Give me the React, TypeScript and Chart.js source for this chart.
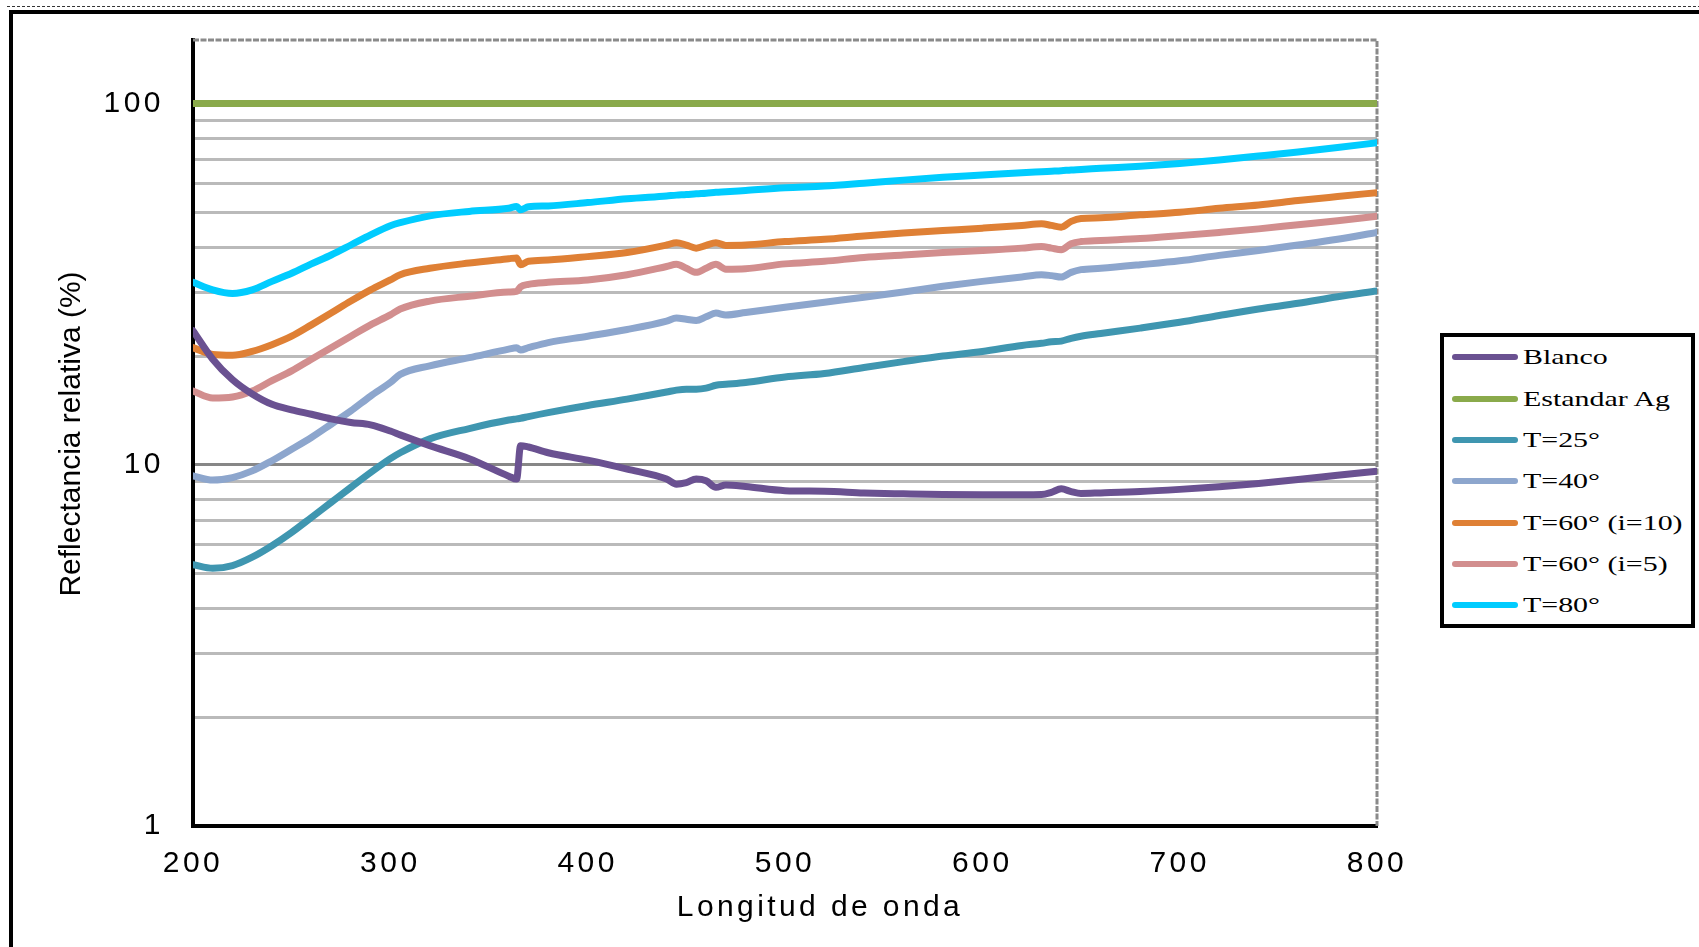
import React, { useEffect, useRef } from 'react';
import { Chart, registerables } from 'chart.js';

Chart.register(...registerables);

// Wavelength (nm)
const wavelengths = [
  200, 210, 220, 230, 240, 250, 260, 270, 280, 290,
  300, 305, 320, 340, 360, 364, 366, 370, 380, 400,
  420, 440, 445, 450, 455, 460, 465, 470, 480, 500,
  520, 540, 560, 580, 600, 620, 630, 635, 640, 645,
  650, 660, 680, 700, 720, 740, 760, 780, 800,
];

const blanco = [
  23.5, 19.6, 17.2, 15.7, 14.7, 14.2, 13.8, 13.4, 13.1, 12.9,
  12.4, 12.1, 11.3, 10.4, 9.3, 9.13, 11.3, 11.2, 10.8, 10.3,
  9.73, 9.13, 8.84, 8.93, 9.13, 9.03, 8.66, 8.79, 8.71, 8.48,
  8.45, 8.36, 8.31, 8.27, 8.26, 8.26, 8.27, 8.39, 8.58, 8.43,
  8.33, 8.36, 8.43, 8.55, 8.7, 8.88, 9.1, 9.35, 9.6,
];

const estandarAg = [
  100, 100, 100, 100, 100, 100, 100, 100, 100, 100,
  100, 100, 100, 100, 100, 100, 100, 100, 100, 100,
  100, 100, 100, 100, 100, 100, 100, 100, 100, 100,
  100, 100, 100, 100, 100, 100, 100, 100, 100, 100,
  100, 100, 100, 100, 100, 100, 100, 100, 100,
];

const t25 = [
  5.29, 5.17, 5.26, 5.55, 5.97, 6.5, 7.15, 7.87, 8.66, 9.52,
  10.4, 10.8, 11.8, 12.6, 13.3, 13.4, 13.45, 13.6, 13.95, 14.6,
  15.2, 15.9, 16.1, 16.2, 16.2, 16.3, 16.6, 16.7, 16.9, 17.5,
  17.9, 18.6, 19.3, 20.0, 20.6, 21.4, 21.7, 21.9, 22.0, 22.4,
  22.7, 23.1, 23.9, 24.8, 25.9, 27.0, 28.0, 29.2, 30.3,
];

const t40 = [
  9.32, 9.07, 9.22, 9.62, 10.26, 11.04, 11.9, 12.95, 14.1, 15.5,
  16.9, 17.8, 18.8, 19.8, 20.9, 21.1, 20.8, 21.1, 21.8, 22.7,
  23.7, 25.0, 25.5, 25.3, 25.1, 25.7, 26.3, 26.0, 26.4, 27.3,
  28.2, 29.1, 30.1, 31.2, 32.2, 33.1, 33.6, 33.4, 33.1, 34.1,
  34.7, 35.0, 35.8, 36.7, 38.0, 39.2, 40.6, 42.1, 44.0,
];

const t60i10 = [
  21.1, 20.2, 20.1, 20.6, 21.5, 22.7, 24.4, 26.3, 28.4, 30.5,
  32.5, 33.6, 35.0, 36.2, 37.2, 37.4, 35.8, 36.6, 36.9, 37.7,
  38.7, 40.6, 41.2, 40.6, 39.8, 40.5, 41.2, 40.5, 40.6, 41.5,
  42.1, 43.0, 43.8, 44.5, 45.2, 46.0, 46.5, 46.0, 45.5, 47.2,
  48.1, 48.3, 49.2, 50.0, 51.3, 52.4, 53.9, 55.3, 56.7,
];

const t60i5 = [
  16.0, 15.3, 15.4, 16.0, 17.1, 18.2, 19.6, 21.1, 22.7, 24.4,
  26.0, 27.0, 28.4, 29.3, 30.1, 30.2, 31.1, 31.6, 32.0, 32.5,
  33.6, 35.4, 35.9, 35.0, 34.1, 35.0, 35.9, 34.8, 34.9, 36.0,
  36.6, 37.5, 38.1, 38.7, 39.2, 39.8, 40.2, 39.8, 39.4, 40.9,
  41.5, 41.8, 42.3, 43.1, 44.0, 45.0, 46.2, 47.4, 48.8,
];

const t80 = [
  32.0, 30.5, 29.8, 30.5, 32.2, 33.9, 36.0, 38.1, 40.6, 43.3,
  45.9, 46.8, 48.9, 50.3, 51.3, 51.9, 50.8, 51.8, 52.1, 53.2,
  54.5, 55.5, 55.8, 56.0, 56.3, 56.5, 56.8, 57.0, 57.5, 58.5,
  59.1, 60.2, 61.4, 62.5, 63.4, 64.4, 64.8, 65.0, 65.2, 65.5,
  65.7, 66.2, 67.1, 68.3, 69.8, 71.6, 73.5, 75.6, 77.9,
];

const seriesNames = ['Blanco', 'Estandar Ag', 'T=25°', 'T=40°', 'T=60° (i=10)', 'T=60° (i=5)', 'T=80°'];
const seriesValues = [blanco, estandarAg, t25, t40, t60i10, t60i5, t80];
const seriesColors = ['#6a5191', '#8aaa4b', '#3f96b0', '#8da6cd', '#df8035', '#d28e8e', '#00ccff'];

const yGridValues = [1, 2, 3, 4, 5, 6, 7, 8, 9, 10, 20, 30, 40, 50, 60, 70, 80, 90, 100];
const yLabelValues = [1, 10, 100];
const xTitle = 'Longitud de onda';
const yTitle = 'Reflectancia relativa (%)';

const W = 1699;
const H = 947;
const AREA = { left: 193, top: 40, right: 1377, bottom: 826 };

const decorPlugin = {
  id: 'decor',
  beforeDraw(chart: any) {
    chart.ctx.letterSpacing = '3.5px';
  },
  beforeDatasetsDraw(chart: any) {
    const { ctx, chartArea: a } = chart;
    ctx.save();
    ctx.letterSpacing = '0px';
    ctx.strokeStyle = '#8a8a8a';
    ctx.lineWidth = 3;
    ctx.setLineDash([6, 1.5]);
    ctx.beginPath();
    ctx.moveTo(a.left, a.top);
    ctx.lineTo(a.right, a.top);
    ctx.lineTo(a.right, a.bottom);
    ctx.stroke();
    ctx.restore();
  },
  afterDraw(chart: any) {
    const { ctx } = chart;
    ctx.save();
    ctx.fillStyle = '#000';
    ctx.textAlign = 'center';
    ctx.textBaseline = 'middle';
    ctx.font = '30px "Liberation Sans", Arial, sans-serif';
    ctx.letterSpacing = '3.4px';
    ctx.fillText(xTitle, 820, 908);
    ctx.letterSpacing = '0px';
    ctx.translate(72, 434);
    ctx.rotate(-Math.PI / 2);
    ctx.fillText(yTitle, 0, 0);
    ctx.restore();
  },
};

export default function App() {
  const ref = useRef<HTMLCanvasElement | null>(null);

  useEffect(() => {
    if (!ref.current) return;
    const tickFont = { family: '"Liberation Sans", Arial, sans-serif', size: 30 };
    const chart = new Chart(ref.current, {
      type: 'line',
      data: {
        datasets: seriesNames.map((name, i) => ({
          label: name,
          data: wavelengths.map((x, j) => ({ x, y: seriesValues[i][j] })),
          borderColor: seriesColors[i],
          backgroundColor: seriesColors[i],
          borderWidth: 7,
          pointRadius: 0,
          cubicInterpolationMode: 'monotone',
          borderCapStyle: 'round',
          borderJoinStyle: 'round',
          fill: false,
        })),
      },
      options: {
        responsive: false,
        animation: false,
        layout: { padding: { top: AREA.top, right: W - AREA.right, left: 0, bottom: 0 } },
        plugins: { legend: { display: false }, tooltip: { enabled: false } },
        scales: {
          x: {
            type: 'linear',
            min: 200,
            max: 800,
            ticks: { stepSize: 100, font: tickFont, color: '#000', padding: 20, maxRotation: 0 },
            grid: { display: false, drawTicks: false },
            border: { color: '#000', width: 4 },
            afterFit: (s: any) => {
              s.height = H - AREA.bottom;
              s.paddingLeft = 0;
              s.paddingRight = 0;
            },
          },
          y: {
            type: 'logarithmic',
            min: 1,
            max: 150,
            afterBuildTicks: (s: any) => { s.ticks = yGridValues.map((v) => ({ value: v })); },
            ticks: {
              autoSkip: false,
              font: tickFont,
              color: '#000',
              padding: 29,
              callback: (v: any) => (yLabelValues.includes(Number(v)) ? String(v) : ''),
            },
            grid: {
              color: (c: any) => (c.tick && c.tick.value === 10 ? '#878787' : '#bababa'),
              lineWidth: 3,
              drawTicks: false,
            },
            border: { color: '#000', width: 4 },
            afterFit: (s: any) => {
              s.width = AREA.left;
              s.paddingTop = 0;
              s.paddingBottom = 0;
            },
          },
        },
      },
      plugins: [decorPlugin],
    } as any);
    return () => chart.destroy();
  }, []);

  const rowTop = 20.3;
  const rowGap = 41.3;

  return (
    <div style={{ position: 'absolute', left: 0, top: 0, width: W, height: H, background: '#fff', overflow: 'hidden' }}>
      <div style={{ position: 'absolute', left: 7, top: 6, width: W, height: 0, borderTop: '1px dashed #333' }} />
      <div style={{ position: 'absolute', left: 9, top: 10, width: W, height: H, borderLeft: '4px solid #000', borderTop: '4px solid #000' }} />
      <canvas ref={ref} width={W} height={H} style={{ position: 'absolute', left: 0, top: 0, width: W, height: H }} />
      <div
        style={{
          position: 'absolute', left: 1440, top: 333, width: 255, height: 295,
          boxSizing: 'border-box', border: '4px solid #000', background: '#fff',
        }}
      >
        {seriesNames.map((name, i) => {
          const cy = rowTop + rowGap * i;
          return (
            <React.Fragment key={name}>
              <div style={{ position: 'absolute', left: 8, top: cy - 3, width: 66, height: 6, borderRadius: 3, background: seriesColors[i] }} />
              <div
                style={{
                  position: 'absolute', left: 79, top: cy - 11, height: 22, lineHeight: '22px',
                  fontFamily: '"Liberation Serif", "Times New Roman", serif', fontSize: 22,
                  color: '#000', whiteSpace: 'nowrap',
                  transform: 'scaleX(1.36)', transformOrigin: '0 50%',
                }}
              >
                {name}
              </div>
            </React.Fragment>
          );
        })}
      </div>
    </div>
  );
}
